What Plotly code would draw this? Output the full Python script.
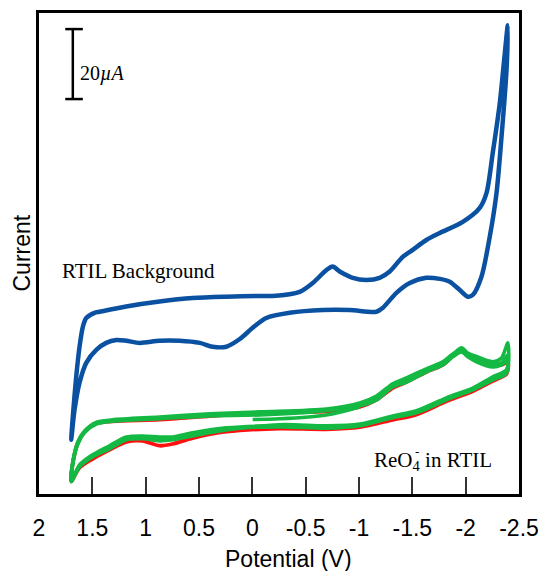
import plotly.graph_objects as go

# Potential grid (V) and currents (uA)
# --- RTIL background, one cycle ---
blue_up_v = [1.698, 1.683, 1.651, 1.620, 1.589, 1.557, 1.479, 1.432, 1.182, 0.870, 0.560, 0.244,
             -0.069, -0.190, -0.444, -0.566, -0.694, -0.753, -0.819, -0.941, -1.069, -1.194,
             -1.288, -1.410, -1.504, -1.632, -1.757, -1.973, -2.132, -2.195, -2.254, -2.320,
             -2.367, -2.395]
blue_up_i = [16.6, 23.2, 34.7, 43.2, 48.9, 51.4, 52.9, 53.2, 54.7, 56.1, 57.1, 57.5,
             57.7, 57.7, 58.9, 61.4, 65.1, 66.1, 64.7, 62.9, 62.3, 62.9,
             64.7, 68.9, 70.9, 73.7, 75.7, 78.9, 82.9, 87.1, 98.6, 112.9,
             127.1, 135.1]
blue_down_v = [-2.395, -2.383, -2.336, -2.289, -2.226, -2.148, -2.067, -2.020, -1.945, -1.851,
               -1.757, -1.632, -1.476, -1.351, -1.222, -1.163, -0.913, -0.659, -0.350, -0.131,
               -0.003, 0.118, 0.244, 0.372, 0.493, 0.682, 0.870, 1.057, 1.182, 1.276,
               1.370, 1.463, 1.557, 1.620, 1.667, 1.698]
blue_down_i = [135.1, 122.3, 103.2, 87.1, 74.7, 63.2, 58.0, 57.5, 59.4, 61.8,
               62.6, 62.9, 61.4, 58.6, 54.3, 53.2, 53.7, 53.7, 52.9, 51.4,
               48.6, 45.4, 43.2, 43.2, 44.3, 44.9, 44.9, 44.3, 44.9, 45.1,
               44.3, 42.3, 38.6, 32.9, 25.1, 16.6]

# --- ReO4- in RTIL, repeated cycles ---
reo_up_v = [1.698, 1.683, 1.636, 1.573, 1.463, 1.311, 0.870, 0.399, -0.069, -0.694, -1.007,
            -1.163, -1.316, -1.445, -1.632, -1.785, -1.879, -1.961, -2.020, -2.101, -2.254,
            -2.336, -2.395]
reo_down_v = [-2.395, -2.383, -2.254, -2.067, -1.820, -1.538, -1.316, -1.007, -0.694, -0.256,
              0.244, 0.560, 0.748, 0.870, 1.029, 1.182, 1.339, 1.498, 1.620, 1.698]

red_up_i = [4.7, 10.0, 15.7, 18.9, 21.3, 21.9, 22.4, 23.4, 24.3, 24.7, 26.0,
            28.0, 31.4, 33.1, 36.0, 38.0, 40.6, 42.6, 41.1, 40.0, 38.6, 38.0, 38.9]
red_down_i = [38.3, 35.4, 33.4, 30.5, 27.6, 23.8, 22.3, 20.2, 19.6, 19.8,
              18.9, 17.1, 15.4, 14.9, 16.3, 16.0, 13.7, 11.1, 8.6, 4.7]

green_up_i = [
    [4.7, 10.0, 15.7, 18.9, 21.4, 22.1, 22.9, 23.7, 24.3, 25.1, 26.6,
     28.6, 32.3, 33.7, 36.6, 38.6, 40.9, 42.9, 41.4, 40.4, 38.9, 40.0, 44.3],
    [4.7, 10.3, 16.0, 19.1, 21.6, 22.3, 23.1, 24.0, 24.6, 25.4, 27.1,
     29.1, 32.6, 34.3, 36.9, 38.9, 41.1, 42.3, 40.6, 39.4, 38.0, 38.6, 40.9],
    [4.7, 9.7, 15.4, 18.7, 21.1, 21.9, 22.6, 23.4, 23.7, 24.9, 26.3,
     28.0, 31.7, 33.1, 36.0, 38.0, 40.3, 41.7, 40.3, 38.9, 37.4, 38.0, 39.4],
]
green_down_i = [
    [38.6, 35.7, 33.7, 30.9, 28.0, 24.3, 22.9, 20.9, 20.3, 20.6,
     20.0, 18.6, 17.4, 17.4, 17.7, 17.4, 14.9, 12.3, 9.4, 4.7],
    [39.4, 36.6, 34.6, 31.4, 28.6, 24.9, 23.4, 21.1, 20.6, 20.9,
     19.4, 17.7, 16.6, 16.3, 16.9, 16.6, 14.0, 11.7, 8.9, 4.7],
    [38.9, 36.3, 34.0, 31.1, 28.3, 24.6, 23.1, 20.6, 19.9, 20.3,
     19.7, 18.3, 17.1, 16.9, 17.3, 17.0, 14.4, 12.0, 9.1, 4.7],
]
start_v = [-0.003, -0.256, -0.694, -1.007]
start_i = [22.4, 22.6, 23.7, 26.0]

x_ticks = [2, 1.5, 1, 0.5, 0, -0.5, -1, -1.5, -2, -2.5]
x_tick_text = ["2", "1.5", "1", "0.5", "0", "-0.5", "-1", "-1.5", "-2", "-2.5"]

BLUE = "#0B51A1"
GREEN = "#14B944"
RED = "#FF1010"

fig = go.Figure()

fig.add_trace(go.Scatter(
    x=reo_up_v + reo_down_v[1:], y=red_up_i + red_down_i[1:],
    mode="lines", line=dict(color=RED, width=3.8, shape="spline", smoothing=0.8),
))
for up, down in zip(green_up_i, green_down_i):
    fig.add_trace(go.Scatter(
        x=reo_up_v + reo_down_v[1:], y=up + down[1:],
        mode="lines", line=dict(color=GREEN, width=3.6, shape="spline", smoothing=0.8),
    ))
fig.add_trace(go.Scatter(
    x=start_v, y=start_i,
    mode="lines", line=dict(color=GREEN, width=3.6, shape="spline", smoothing=0.8),
))
fig.add_trace(go.Scatter(
    x=blue_up_v + blue_down_v[1:], y=blue_up_i + blue_down_i[1:],
    mode="lines", line=dict(color=BLUE, width=4.5, shape="spline", smoothing=0.8),
))

# 20 uA scale bar
fig.add_shape(type="line", x0=1.683, x1=1.683, y0=114.0, y1=134.0,
              line=dict(color="black", width=2.5))
fig.add_shape(type="line", x0=1.754, x1=1.589, y0=134.0, y1=134.0,
              line=dict(color="black", width=2.5))
fig.add_shape(type="line", x0=1.754, x1=1.589, y0=114.0, y1=114.0,
              line=dict(color="black", width=2.5))

serif = "Liberation Serif, Times New Roman, serif"
sans = "Liberation Sans, Arial, sans-serif"
fig.add_annotation(x=1.604, y=121.3, text="20<i>\u00b5A</i>", showarrow=False,
                   xanchor="left", yanchor="middle", xshift=-3,
                   font=dict(family=serif, size=20, color="black"))
fig.add_annotation(x=1.775, y=64.9, text="RTIL Background", showarrow=False,
                   xanchor="left", yanchor="middle", xshift=-3,
                   font=dict(family=serif, size=21, color="black"))
fig.add_annotation(x=-1.147, y=10.6, text="ReO<sub>4</sub> in RTIL", showarrow=False,
                   xanchor="left", yanchor="middle", xshift=-3,
                   font=dict(family=serif, size=21, color="black"))
fig.add_annotation(x=-1.541, y=13.3, text="-", showarrow=False,
                   xanchor="center", yanchor="middle",
                   font=dict(family=serif, size=13, color="black"))

# axis titles
fig.add_annotation(x=(288 - 39) / 480, xref="paper", y=0, yref="paper", text="Potential (V)",
                   showarrow=False, yshift=-65, yanchor="middle", xanchor="center",
                   font=dict(family=sans, size=23, color="black"))
fig.add_annotation(x=0, xref="paper", y=0.5, yref="paper", text="Current",
                   showarrow=False, xshift=-18, textangle=-90,
                   xanchor="center", yanchor="middle",
                   font=dict(family=sans, size=23, color="black"))

fig.update_layout(
    width=542, height=571,
    margin=dict(l=39, r=23, t=13, b=77),
    paper_bgcolor="white", plot_bgcolor="white",
    showlegend=False, hovermode=False,
    font=dict(family=sans, color="black"),
    xaxis=dict(
        range=[2, -2.5], tickvals=x_ticks, ticktext=x_tick_text,
        ticks="inside", ticklen=17, tickwidth=1.5, tickcolor="#333333",
        ticklabelstandoff=12, tickfont=dict(size=23),
        showline=True, linecolor="black", linewidth=2.5, mirror=True,
        showgrid=False, zeroline=False, automargin=False,
    ),
    yaxis=dict(
        range=[1.1, 138.6], showticklabels=False, ticks="",
        showline=True, linecolor="black", linewidth=2.5, mirror=True,
        showgrid=False, zeroline=False, automargin=False,
    ),
)

# the page body has a default 8px margin; drop it so the figure sits at 0,0
fig.write_html("out.html", config={"displayModeBar": False},
               post_script="document.body.style.margin='0';")
